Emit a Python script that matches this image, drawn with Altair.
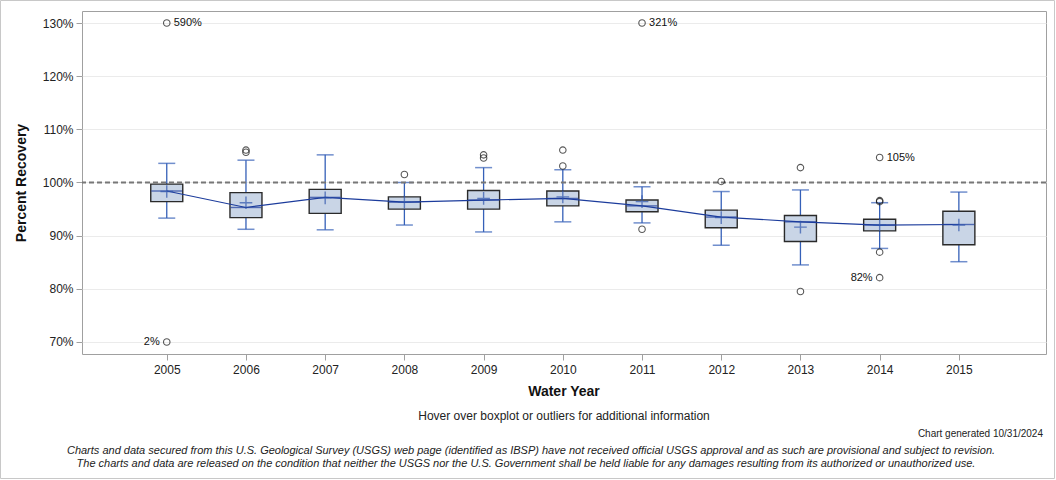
import altair as alt
import pandas as pd

# ---- data ----
years = [2005, 2006, 2007, 2008, 2009, 2010, 2011, 2012, 2013, 2014, 2015]
whisker_low = [93.3, 91.2, 91.1, 92.0, 90.7, 92.6, 92.4, 88.2, 84.5, 87.6, 85.1]
q1 = [96.4, 93.4, 94.2, 95.0, 95.0, 95.6, 94.5, 91.5, 88.9, 90.9, 88.3]
median = [98.4, 95.3, 97.2, 96.3, 96.7, 97.0, 95.6, 93.5, 92.6, 92.0, 92.1]
q3 = [99.7, 98.1, 98.7, 97.3, 98.5, 98.4, 96.7, 94.8, 93.8, 93.1, 94.6]
whisker_high = [103.6, 104.2, 105.2, 100.0, 102.8, 102.4, 99.2, 98.3, 98.6, 96.2, 98.2]
mean = [98.3, 96.2, 97.1, 96.3, 97.0, 97.3, 96.4, 93.4, 91.6, 92.0, 92.0]

outlier_years = [2005, 2005, 2006, 2006, 2008, 2009, 2009, 2010, 2010, 2011, 2011,
                 2012, 2013, 2013, 2014, 2014, 2014, 2014, 2014]
outlier_values = [130.0, 70.0, 106.1, 105.7, 101.5, 105.2, 104.6, 106.1, 103.1, 91.2, 130.0,
                  100.2, 102.8, 79.5, 104.7, 96.6, 96.4, 86.9, 82.1]

label_right_years = [2005, 2011, 2014]
label_right_values = [130.0, 130.0, 104.7]
label_right_text = ["590%", "321%", "105%"]
label_left_years = [2005, 2014]
label_left_values = [70.0, 82.1]
label_left_text = ["2%", "82%"]

y_ticks = [70, 80, 90, 100, 110, 120, 130]

# ---- tables ----
box = pd.DataFrame({"year": years, "lo": whisker_low, "q1": q1, "med": median,
                    "q3": q3, "hi": whisker_high, "mean": mean})
outl = pd.DataFrame({"year": outlier_years, "value": outlier_values})
lab_r = pd.DataFrame({"year": label_right_years, "value": label_right_values, "t": label_right_text})
lab_l = pd.DataFrame({"year": label_left_years, "value": label_left_values, "t": label_left_text})
ref = pd.DataFrame({"v": [100]})

W, H = 964, 343
FONT = "Liberation Sans"
BLUE = "#3560b8"
DARKBLUE = "#1c3c9c"

xscale = alt.Scale(domain=[2003.93, 2016.1], nice=False, zero=False, padding=0)
yscale = alt.Scale(domain=[67.74, 132.26], nice=False, zero=False, padding=0)

x_enc = alt.X("year:Q", scale=xscale,
              axis=alt.Axis(values=years, format="d", title=None, grid=False,
                            domain=False, tickColor="#a0a0a0", tickSize=6,
                            labelFont=FONT, labelFontSize=12, labelColor="#222",
                            labelPadding=4))
y_axis = alt.Axis(values=y_ticks, labelExpr="datum.value + '%'", title="Percent Recovery",
                  titleFont=FONT, titleFontSize=14, titleFontWeight="bold", titleColor="#111",
                  titlePadding=14, labelFont=FONT, labelFontSize=12, labelColor="#222",
                  domain=False, tickColor="#a0a0a0", tickSize=6, gridColor="#ebebeb",
                  labelPadding=3)

xb = alt.X("year:Q", scale=xscale)

whisk = alt.Chart(box).mark_rule(color=BLUE, strokeWidth=1.3).encode(
    x=x_enc, y=alt.Y("lo:Q", scale=yscale, axis=y_axis), y2="hi:Q")
cap_lo = alt.Chart(box).mark_tick(color=BLUE, size=17, thickness=1.5, orient="horizontal").encode(
    x=xb, y=alt.Y("lo:Q", scale=yscale))
cap_hi = alt.Chart(box).mark_tick(color=BLUE, size=17, thickness=1.5, orient="horizontal").encode(
    x=xb, y=alt.Y("hi:Q", scale=yscale))
boxes = alt.Chart(box).mark_bar(size=32, fill="#c9d5e6", stroke="#2a2a2a", strokeWidth=1.4).encode(
    x=xb, y=alt.Y("q1:Q", scale=yscale), y2="q3:Q")
med = alt.Chart(box).mark_tick(color=DARKBLUE, size=31, thickness=1.4, orient="horizontal").encode(
    x=xb, y=alt.Y("med:Q", scale=yscale))
refline = alt.Chart(ref).mark_rule(color="#777777", strokeWidth=2, strokeDash=[5, 3]).encode(
    y=alt.Y("v:Q", scale=yscale))
medline = alt.Chart(box).mark_line(color=DARKBLUE, strokeWidth=1.2).encode(
    x=xb, y=alt.Y("med:Q", scale=yscale))
means = alt.Chart(box).mark_point(shape="M-1,0H1M0,-1V1", size=160, color="#2f55ad",
                                  strokeWidth=1.4, filled=False).encode(
    x=xb, y=alt.Y("mean:Q", scale=yscale))
outs = alt.Chart(outl).mark_point(shape="circle", size=42, color="#111111", strokeWidth=1.1,
                                  filled=False).encode(
    x=xb, y=alt.Y("value:Q", scale=yscale))
labr = alt.Chart(lab_r).mark_text(align="left", dx=7, font=FONT, fontSize=11, color="#111").encode(
    x=xb, y=alt.Y("value:Q", scale=yscale), text="t:N")
labl = alt.Chart(lab_l).mark_text(align="right", dx=-7, font=FONT, fontSize=11, color="#111").encode(
    x=xb, y=alt.Y("value:Q", scale=yscale), text="t:N")


def txt(s, x, y, align="center", size=12, weight="normal", style="normal", color="#222"):
    return alt.Chart(pd.DataFrame({"t": [s]})).mark_text(
        align=align, baseline="middle", font=FONT, fontSize=size, fontWeight=weight,
        fontStyle=style, color=color).encode(x=alt.value(x - 82), y=alt.value(y - 11), text="t:N")


footer = [
    txt("Water Year", 564, 392, size=14, weight="bold", color="#111"),
    txt("Hover over boxplot or outliers for additional information", 564, 416, size=12),
    txt("Chart generated 10/31/2024", 1043, 434, align="right", size=10),
    txt("Charts and data secured from this U.S. Geological Survey (USGS) web page (identified as IBSP) "
        "have not received official USGS approval and as such are provisional and subject to revision.",
        531, 451, size=11, style="italic"),
    txt("The charts and data are released on the condition that neither the USGS nor the U.S. "
        "Government shall be held liable for any damages resulting from its authorized or unauthorized use.",
        526, 464, size=11, style="italic"),
]

border = alt.Chart(pd.DataFrame({"a": [0]})).mark_rect(
    fill=None, stroke="#c8c8c8", strokeWidth=1, clip=False).encode(
    x=alt.value(-81.5), x2=alt.value(1054.5 - 82), y=alt.value(-10.5), y2=alt.value(478.5 - 11))

chart = alt.layer(
    whisk, cap_lo, cap_hi, boxes, med, refline, medline, means, outs, labr, labl, *footer, border
).properties(
    width=W, height=H,
    autosize=alt.AutoSizeParams(type="none"),
    padding={"left": 82, "top": 11, "right": 10, "bottom": 126},
    background="white",
).configure_view(stroke="#a0a0a0", strokeWidth=1)

chart.save("out.html", embed_options={"renderer": "svg", "actions": False})
